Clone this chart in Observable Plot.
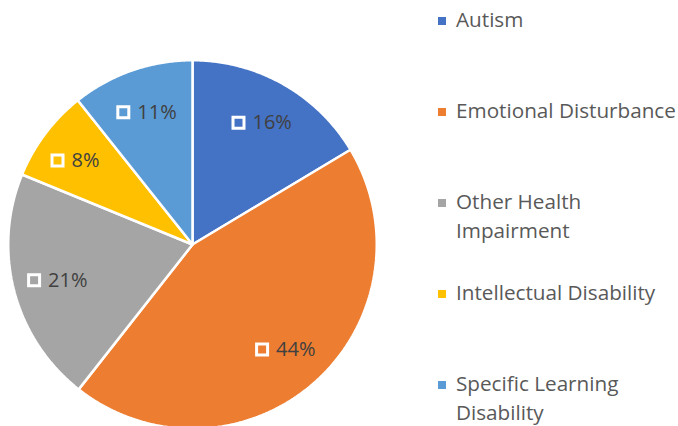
<!DOCTYPE html>
<html>
<head>
<meta charset="utf-8">
<script src="https://cdn.jsdelivr.net/npm/d3@7"></script>
<script src="https://cdn.jsdelivr.net/npm/@observablehq/plot@0.6"></script>
<style>
  body { margin: 0; background: #fff; }
  #wrap { position: relative; width: 678px; height: 426px; overflow: hidden; font-family: "Open Sans", sans-serif; }
  #chart { position: absolute; left: 0; top: 0; }
  .item { position: absolute; left: 438px; display: flex; align-items: flex-start; font-size: 20.7px; color: #595959; line-height: 29px; }
  .sw { width: 8px; height: 8px; margin-top: 12px; margin-right: 10px; flex: none; }
  .lbl { width: 232px; }
</style>
</head>
<body>
<div id="wrap"><div id="chart"></div><div id="legend"></div></div>
<script>
const categories = ["Autism", "Emotional Disturbance", "Other Health Impairment", "Intellectual Disability", "Specific Learning Disability"];
const shares = [16.4, 44.2, 20.6, 8.1, 10.7];
const pctLabels = ["16%", "44%", "21%", "8%", "11%"];
const colors = ["#4472C4", "#ED7D31", "#A5A5A5", "#FFC000", "#5B9BD5"];

// layout constants
const W = 678, H = 426, CX = 192, CY = 244, R = 184.25;

const total = d3.sum(shares);
let acc = 0;
const slices = categories.map((c, i) => {
  const a0 = acc / total * 2 * Math.PI;
  acc += shares[i];
  const a1 = acc / total * 2 * Math.PI;
  return {cat: c, a0, a1, mid: (a0 + a1) / 2, label: pctLabels[i]};
});
const pts = [];
for (const s of slices) {
  pts.push({cat: s.cat, x: 0, y: 0});
  const n = Math.max(2, Math.ceil((s.a1 - s.a0) / (Math.PI / 360)));
  for (let k = 0; k <= n; k++) {
    const a = s.a0 + (s.a1 - s.a0) * k / n;
    pts.push({cat: s.cat, x: Math.sin(a), y: Math.cos(a)});
  }
  pts.push({cat: s.cat, x: 0, y: 0});
}
const LR = 0.76;
const chart = Plot.plot({
  width: W, height: H, margin: 0,
  x: {domain: [-CX / R, (W - CX) / R], axis: null},
  y: {domain: [(CY - H) / R, CY / R], axis: null},
  color: {domain: categories, range: colors},
  marks: [
    Plot.line(pts, {x: "x", y: "y", z: "cat", fill: "cat", stroke: "white", strokeWidth: 2.5, strokeLinejoin: "miter", curve: "linear"}),
    Plot.dot(slices, {x: d => LR * Math.sin(d.mid), y: d => LR * Math.cos(d.mid), symbol: "square", r: 6.2, fill: "none", stroke: "white", strokeWidth: 3, dx: -23}),
    Plot.text(slices, {x: d => LR * Math.sin(d.mid), y: d => LR * Math.cos(d.mid), text: "label", textAnchor: "start", dx: -9, fontSize: 20, fill: "#404040", fontFamily: "Open Sans"})
  ]
});
document.getElementById("chart").append(chart);

const legend = document.getElementById("legend");
categories.forEach((c, i) => {
  const it = document.createElement("div");
  it.className = "item";
  it.style.top = (5 + i * 91) + "px";
  const sw = document.createElement("div");
  sw.className = "sw";
  sw.style.background = colors[i];
  const lb = document.createElement("div");
  lb.className = "lbl";
  lb.textContent = c;
  it.append(sw, lb);
  legend.append(it);
});
</script>
</body>
</html>
